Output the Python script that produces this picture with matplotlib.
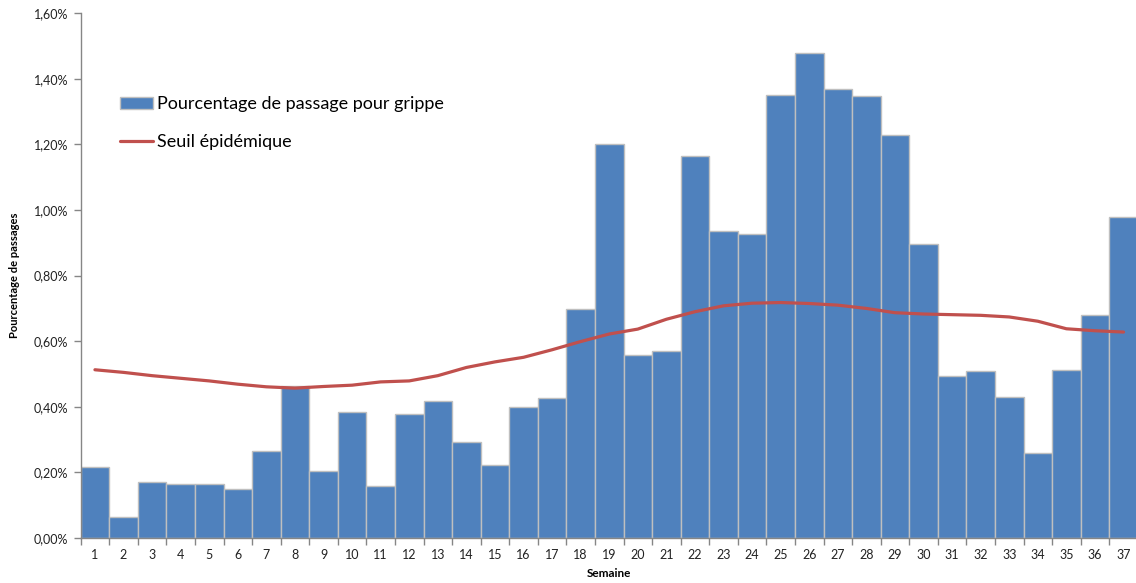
import matplotlib
matplotlib.use("Agg")
import matplotlib.pyplot as plt
from matplotlib.ticker import FixedLocator, FuncFormatter

semaines = list(range(1, 38))
pct_grippe = [0.215, 0.065, 0.172, 0.166, 0.166, 0.150, 0.265, 0.464, 0.205, 0.385,
              0.160, 0.377, 0.419, 0.292, 0.222, 0.399, 0.427, 0.697, 1.200, 0.559,
              0.570, 1.165, 0.936, 0.927, 1.350, 1.479, 1.369, 1.347, 1.229, 0.895,
              0.495, 0.510, 0.431, 0.260, 0.512, 0.680, 0.978]
seuil = [0.513, 0.505, 0.495, 0.487, 0.479, 0.469, 0.461, 0.457, 0.462, 0.466,
         0.476, 0.479, 0.495, 0.520, 0.537, 0.551, 0.574, 0.599, 0.622, 0.637,
         0.667, 0.690, 0.708, 0.716, 0.718, 0.715, 0.710, 0.700, 0.687, 0.683,
         0.681, 0.679, 0.674, 0.661, 0.638, 0.632, 0.628]
yticks = [0.0, 0.2, 0.4, 0.6, 0.8, 1.0, 1.2, 1.4, 1.6]

font = ["Lato", "DejaVu Sans"]
axis_grey = "#868686"

fig = plt.figure(figsize=(11.36, 5.83), dpi=100)
ax = fig.add_axes([0.071, 0.0772, 0.9306, 0.9])

x = list(range(len(semaines)))
bars = ax.bar(x, pct_grippe, width=1.0, color="#4F81BD", edgecolor="#BFBFBF",
              linewidth=1.0, label="Pourcentage de passage pour grippe", zorder=2)
line, = ax.plot(x, seuil, color="#C0504D", linewidth=2.3, label="Seuil épidémique",
                solid_capstyle="round", zorder=3)

ax.set_xlim(-0.5, len(semaines) - 0.5)
ax.set_ylim(0, 1.6)

ax.set_xticks(x)
ax.set_xticklabels([str(s) for s in semaines], fontsize=9, family=font, color="#222222")
ax.xaxis.set_minor_locator(FixedLocator([i - 0.5 for i in range(len(semaines) + 1)]))
ax.tick_params(axis="x", which="major", length=0, pad=8)
ax.tick_params(axis="x", which="minor", length=5, color=axis_grey, width=1.0)

ax.yaxis.set_major_locator(FixedLocator(yticks))
ax.yaxis.set_major_formatter(FuncFormatter(lambda v, p: f"{v:.2f}%".replace(".", ",")))
ax.tick_params(axis="y", length=5, color=axis_grey, width=1.0, labelsize=9, pad=4)
for lab in ax.get_yticklabels():
    lab.set_family(font)
    lab.set_color("#222222")

for side in ("top", "right"):
    ax.spines[side].set_visible(False)
for side in ("left", "bottom"):
    ax.spines[side].set_color(axis_grey)
    ax.spines[side].set_linewidth(1.0)

ax.set_xlabel("Semaine", fontsize=8.5, fontweight="bold", family=font, labelpad=5)
ax.set_ylabel("Pourcentage de passages", fontsize=8, fontweight="bold", family=font,
              labelpad=10)

ax.legend([bars, line], ["Pourcentage de passage pour grippe", "Seuil épidémique"],
          loc="upper left", bbox_to_anchor=(0.022, 0.873), frameon=False,
          prop={"family": font, "size": 13}, handlelength=1.8,
          handletextpad=0.25, labelspacing=1.2)

fig.savefig("out.png", dpi=100)
